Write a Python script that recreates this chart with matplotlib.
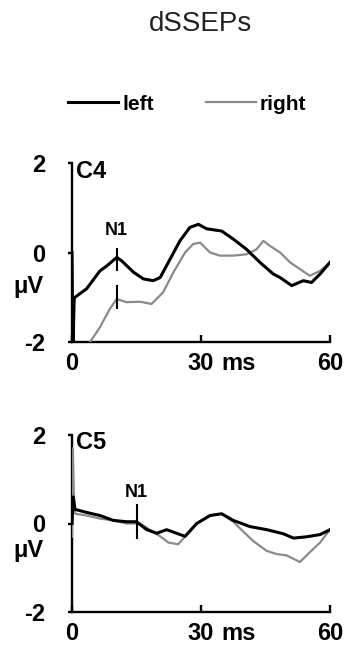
import numpy as np
import matplotlib
matplotlib.use("Agg")
import matplotlib.pyplot as plt
from matplotlib.transforms import blended_transform_factory

plt.rcParams['font.family'] = ['Liberation Sans', 'DejaVu Sans']

# C4 traces (time in ms, amplitude in uV)
c4_left_t = [0, 0.2, 0.5, 0.7, 3.4, 6.5, 8.1, 10.4, 11.6, 14.3, 16.6, 18.9, 20.5, 22.8, 25.1,
             27.4, 29.4, 31.3, 34.8, 37.5, 40.6, 43.7, 46.8, 48.4, 51.1, 53.8, 55.7, 57.7, 60]
c4_left_v = [0, -2.3, -1.05, -1.0, -0.81, -0.41, -0.30, -0.11, -0.19, -0.44, -0.59, -0.63, -0.56, -0.15, 0.26,
             0.56, 0.63, 0.53, 0.48, 0.30, 0.07, -0.22, -0.48, -0.56, -0.74, -0.63, -0.67, -0.48, -0.22]
c4_right_t = [2.5, 4.2, 6.5, 8.8, 10.4, 12.7, 15.8, 18.5, 21.2, 23.6, 26.3, 28.2, 29.8, 32.1, 34.4,
              37.5, 40.6, 42.9, 44.5, 46.0, 48.4, 50.7, 53.0, 55.3, 57.7, 60]
c4_right_v = [-2.3, -2.0, -1.67, -1.26, -1.04, -1.11, -1.10, -1.15, -0.89, -0.44, 0.0, 0.19, 0.22, 0.0, -0.07,
              -0.07, -0.04, 0.07, 0.26, 0.15, 0.0, -0.22, -0.37, -0.52, -0.41, -0.22]

# C5 traces
c5_left_t = [0, 0.3, 0.7, 3.4, 6.5, 9.6, 12.7, 15.0, 17.4, 19.7, 22.0, 24.3, 26.3, 29.0, 32.1, 34.8,
             37.5, 41.4, 45.3, 49.1, 51.5, 54.6, 57.7, 60]
c5_left_v = [0, 0.6, 0.32, 0.25, 0.18, 0.07, 0.04, 0.04, -0.14, -0.22, -0.14, -0.22, -0.29, 0.0, 0.18, 0.22,
             0.07, -0.07, -0.14, -0.23, -0.33, -0.30, -0.25, -0.14]
c5_right_t = [0, 0.2, 0.5, 0.8, 3.4, 6.5, 9.6, 12.7, 15.8, 18.1, 20.5, 22.4, 24.7, 26.7, 29.0, 32.1,
              34.8, 37.5, 39.8, 42.2, 45.3, 47.6, 49.9, 53.0, 55.3, 57.7, 60]
c5_right_v = [-0.3, 1.7, 0.4, 0.22, 0.18, 0.11, 0.07, 0.0, 0.0, -0.14, -0.29, -0.43, -0.47, -0.25, 0.0, 0.18,
              0.22, 0.04, -0.18, -0.40, -0.62, -0.69, -0.72, -0.87, -0.65, -0.43, -0.14]

# N1 markers: (time, ymin, ymax)
c4_n1_black = (10.4, -0.41, 0.11)
c4_n1_gray = (10.4, -1.26, -0.72)
c5_n1 = (15.0, -0.36, 0.43)

xticks = [0, 30, 60]
yticks = [-2, 0, 2]

GRAY = '#8a8a8a'

fig = plt.figure(figsize=(3.49, 6.57), dpi=100)
ax1 = fig.add_axes([72/349, 1-342/657, 258/349, 179/657])
ax2 = fig.add_axes([72/349, 1-612/657, 258/349, 177/657])


def style(ax, name, label_y):
    ax.set_xlim(0, 60)
    ax.set_ylim(-2, 2)
    for s in ['top', 'right']:
        ax.spines[s].set_visible(False)
    for s in ['left', 'bottom']:
        ax.spines[s].set_linewidth(1.7)
        ax.spines[s].set_zorder(1)
    ax.set_xticks(xticks, ['0', '30', '60'])
    ax.set_yticks(yticks, ['-2', '0', '2'])
    ax.tick_params(axis='x', direction='in', length=5, width=1.7, pad=7, labelsize=17)
    ax.tick_params(axis='y', direction='out', length=3, width=1.7, pad=16, labelsize=17)
    for lab in ax.get_xticklabels() + ax.get_yticklabels():
        lab.set_fontweight('bold')
    ax.annotate('ms', xy=(30, 0), xycoords=('data', 'axes fraction'),
                xytext=(15, -7), textcoords='offset points', ha='left', va='top',
                fontsize=17, fontweight='bold')
    tr = blended_transform_factory(ax.transAxes, ax.transData)
    ax.text(-0.17, label_y, 'μV', transform=tr, ha='center', va='center',
            fontsize=17, fontweight='bold')
    ax.text(1.0, 1.82, name, ha='left', va='center', fontsize=17, fontweight='bold')
    ax.patch.set_visible(False)


l1, = ax1.plot(c4_left_t, c4_left_v, color='black', lw=2.2, zorder=3)
l2, = ax1.plot(c4_right_t, c4_right_v, color=GRAY, lw=1.6, zorder=2)
for t, lo, hi in [c4_n1_black, c4_n1_gray]:
    ax1.vlines(t, lo, hi, color='black', lw=1.5, zorder=4)
ax1.text(c4_n1_black[0], 0.5, 'N1', ha='center', va='center', fontsize=13, fontweight='bold')
style(ax1, 'C4', -0.75)

ax2.plot(c5_right_t, c5_right_v, color=GRAY, lw=1.6, zorder=2)
ax2.plot(c5_left_t, c5_left_v, color='black', lw=2.2, zorder=3)
ax2.vlines(c5_n1[0], c5_n1[1], c5_n1[2], color='black', lw=1.5, zorder=4)
ax2.text(c5_n1[0], 0.7, 'N1', ha='center', va='center', fontsize=13, fontweight='bold')
style(ax2, 'C5', -0.6)

fig.text(200/349, 1-24/657, 'dSSEPs', ha='center', va='center', fontsize=20, color='#222222')

fig.legend([l1, l2], ['left', 'right'], loc='center left', bbox_to_anchor=(68/349, 1-104/657),
           ncol=2, frameon=False, borderaxespad=0, borderpad=0, handlelength=2.4,
           handletextpad=0.2, columnspacing=2.5, prop={'size': 15, 'weight': 'bold'})

fig.savefig('out.png', dpi=100)
